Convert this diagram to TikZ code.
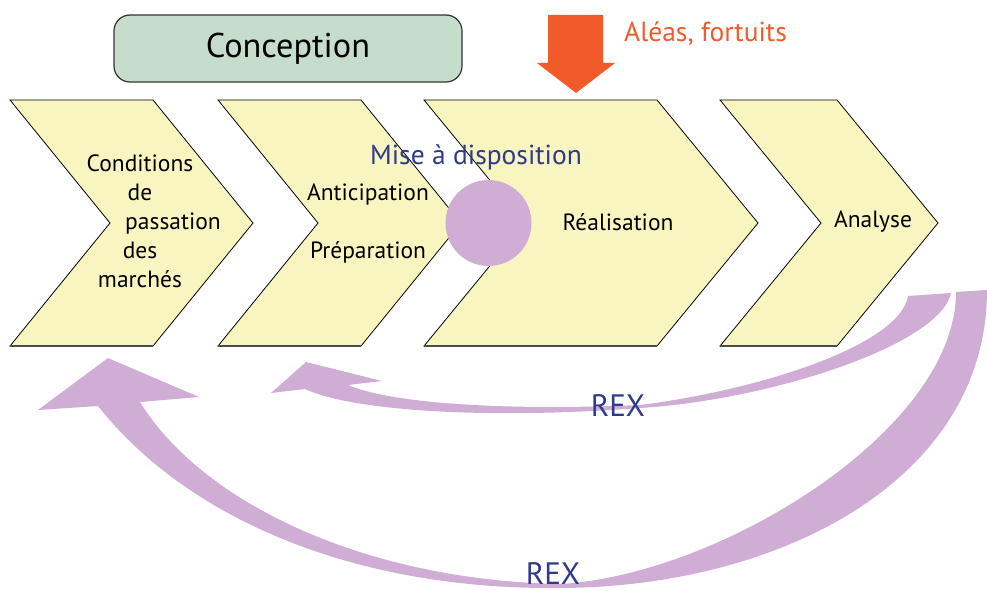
\documentclass[tikz,border=0pt]{standalone}
\usepackage{fontspec}
\setmainfont{PT Sans}
\usetikzlibrary{positioning}
\definecolor{chevfill}{HTML}{F8F5C1}
\definecolor{concfill}{HTML}{C6DDCB}
\definecolor{aleaorange}{HTML}{F15A29}
\definecolor{rexpurple}{HTML}{CFADD4}
\definecolor{rexblue}{HTML}{2E3A8C}
\begin{document}
\begin{tikzpicture}[x=1pt, y=-1pt,
    chev/.style={draw=black, line width=0.8pt, fill=chevfill, line join=miter},
    lbl/.style={font=\fontsize{23.5}{29}\selectfont, inner sep=0pt, align=center},
    bluelbl/.style={font=\fontsize{27.5}{30}\selectfont, text=rexblue, inner sep=0pt},
    rexlbl/.style={font=\fontsize{31}{34}\selectfont, text=rexblue, inner sep=0pt}]
    \useasboundingbox (0,0) rectangle (987,591);
    % Chevrons
    \foreach \l/\r/\d in {10/153/100, 218/361/100, 424/657/101, 720/837/101}
        \draw [chev] (\l,100) -- (\r,100) -- (\r+\d,223) -- (\r,346)
            -- (\l,346) -- (\l+\d,223) -- cycle;
    \foreach \l/\r in {10/153, 218/361, 424/657, 720/837}
        \draw [line width=1.6pt, black!70] (\l,346) -- (\r,346);

    % Conception
    \node [draw=black!80, line width=1.2pt, fill=concfill, rounded corners=16pt,
        minimum width=348pt, minimum height=67pt, inner sep=0pt,
        font=\fontsize{34.3}{36}\selectfont] (conc) at (288,48.5) {Conception};

    % Mise a disposition
    \node [circle, fill=rexpurple, minimum size=86pt, inner sep=0pt] (mad) at (488.5,223) {};
    \node [bluelbl] (madlbl) at (476,157) {Mise à disposition};

    % Labels
    \node [lbl] (cond) at (140,221) {Conditions\\de\\\hspace*{66pt}passation\\des\\marchés};
    \node [lbl] (ant) at (368,194) {Anticipation};
    \node [lbl, below=58pt of ant.center, anchor=center] (prep) {Préparation};
    \node [lbl] (real) at (618,222) {Réalisation};
    \node [lbl] (ana) at (873,222) {Analyse};

    % Aleas
    \fill [aleaorange] (548,15) -- (603,15) -- (603,63) -- (615,63) -- (576,93)
        -- (537,63) -- (548,63) -- cycle;
    \node [bluelbl, text=aleaorange, anchor=west] (alea) at (624,34) {Aléas, fortuits};

    % REX arrows
    \fill [rexpurple] (951,293) .. controls (940,345) and (770,400) .. (640,408)
        .. controls (480,420) and (350,410) .. (305,389)
        -- (271,393) -- (306,362) -- (382,381) -- (348,385)
        .. controls (390,403) and (500,411) .. (640,405)
        .. controls (760,390) and (900,345) .. (908,296) -- cycle;
    \fill [rexpurple] (987,290) .. controls (987,480) and (780,587) .. (560,588)
        .. controls (340,590) and (180,510) .. (98,406)
        -- (38,410) -- (108,358) -- (199,397) -- (140,402)
        .. controls (200,500) and (360,580) .. (560,584)
        .. controls (720,575) and (956,430) .. (956,292) -- cycle;
    \node [rexlbl] (rex1) at (618,406) {REX};
    \node [rexlbl, anchor=base] (rex2) at (553,584) {REX};
\end{tikzpicture}
\end{document}
